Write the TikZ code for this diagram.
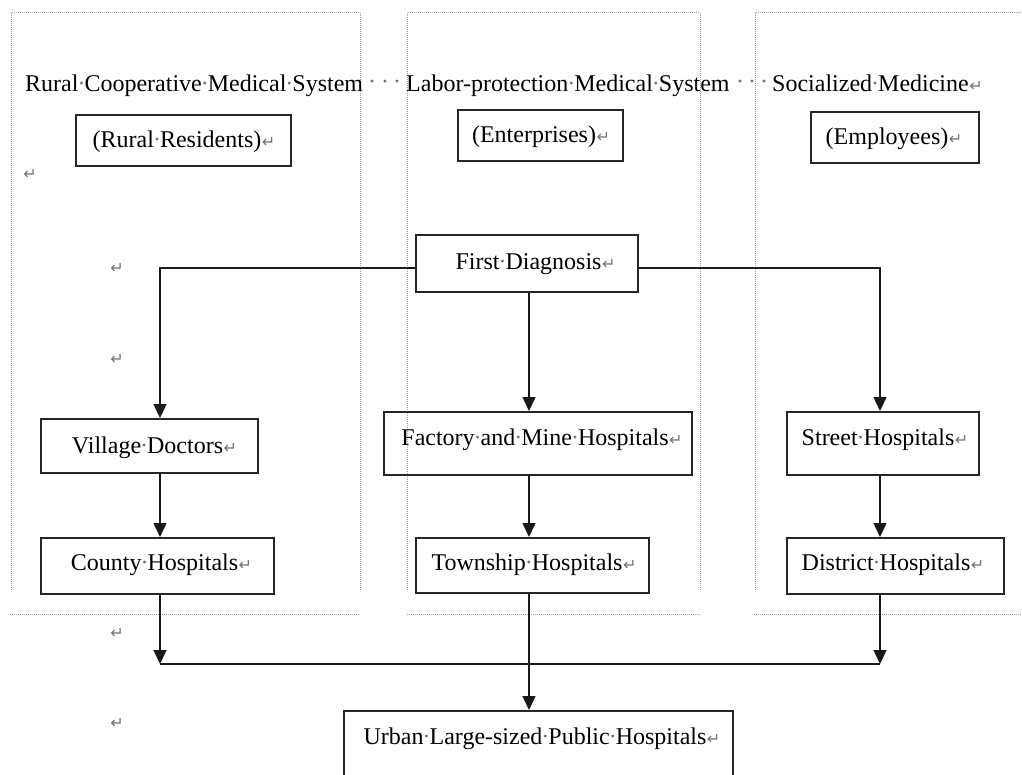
\documentclass[tikz,border=0pt]{standalone}
\usepackage{fontspec}
\setmainfont{Liberation Serif}
\newfontfamily\markfont{DejaVu Sans}
\usetikzlibrary{arrows.meta}
\definecolor{framec}{gray}{0.62}
\definecolor{markc}{gray}{0.45}
% visible space and paragraph marks
\newcommand\ws{\makebox[0.25em][c]{\color{markc}·}}
\newcommand\parmark{\hspace{0.5pt}{\markfont\fontsize{16}{16}\selectfont\color{markc}↵}}
\begin{document}
\begin{tikzpicture}[x=1pt,y=-1pt,
  font=\fontsize{24}{28}\selectfont,
  box/.style={draw=black!85, line width=1.5pt, inner sep=0pt, anchor=north west},
  txt/.style={inner sep=0pt, yshift=-2pt},
  frameline/.style={draw=framec, line width=1pt, dash pattern=on 1pt off 1pt},
  arr/.style={draw=black!90, line width=1.5pt, -{Triangle[width=13pt,length=14pt]}},
  conn/.style={draw=black!90, line width=1.5pt},
  mk/.style={inner sep=0pt, text=markc, font=\markfont\fontsize{16}{16}\selectfont},
  dotmk/.style={inner sep=0pt, text=markc}]
\useasboundingbox (0,0) rectangle (1022,774);
\clip (0,0) rectangle (1022,774);

% dotted text-box frames
\draw[frameline] (11.5,590) -- (11.5,12.5) -- (360,12.5) -- (360,590);
\draw[frameline] (10,614) -- (360,614);
\draw[frameline] (407.5,590) -- (407.5,12.5) -- (700,12.5) -- (700,590);
\draw[frameline] (407,614) -- (701,614);
\draw[frameline] (755,590) -- (755,12.5) -- (1030,12.5);
\draw[frameline] (754,614) -- (1030,614);

% column titles
\node[txt, anchor=base west, yshift=2pt] (t1) at (25,91) {Rural\ws Cooperative\ws Medical\ws System};
\node[txt, anchor=base west, yshift=2pt] (t2) at (406,91) {Labor-protection\ws Medical\ws System};
\node[txt, anchor=base west, yshift=2pt] (t3) at (772,91) {Socialized\ws Medicine\parmark};
\node[dotmk] (d1) at (372,85) {·};
\node[dotmk] (d2) at (385,85) {·};
\node[dotmk] (d3) at (397,85) {·};
\node[dotmk] (d4) at (740,85) {·};
\node[dotmk] (d5) at (752,85) {·};
\node[dotmk] (d6) at (764,85) {·};

% group boxes
\node[box, minimum width=215pt, minimum height=51pt] (rr) at (75,114) {};
\node[txt] (rrt) at (184,139.5) {(Rural\ws Residents)\parmark};
\node[box, minimum width=165pt, minimum height=51pt] (en) at (457,109) {};
\node[txt] (ent) at (541,134.5) {(Enterprises)\parmark};
\node[box, minimum width=168pt, minimum height=51pt] (em) at (810,111) {};
\node[txt] (emt) at (894,136.5) {(Employees)\parmark};

% flow boxes
\node[box, minimum width=222pt, minimum height=57pt] (fd) at (415,234) {};
\node[txt] (fdt) at (535.5,262) {First\ws Diagnosis\parmark};

\node[box, minimum width=217pt, minimum height=54pt] (vd) at (40,418) {};
\node[txt] (vdt) at (154.5,446) {Village\ws Doctors\parmark};
\node[box, minimum width=308pt, minimum height=63pt] (fm) at (383,411) {};
\node[txt] (fmt) at (542,438) {Factory\ws and\ws Mine\ws Hospitals\parmark};
\node[box, minimum width=192pt, minimum height=63pt] (sh) at (786,411) {};
\node[txt] (sht) at (885,438) {Street\ws Hospitals\parmark};

\node[box, minimum width=233pt, minimum height=56pt] (ch) at (40,537) {};
\node[txt] (cht) at (161.5,563) {County\ws Hospitals\parmark};
\node[box, minimum width=233pt, minimum height=55pt] (th) at (415,537) {};
\node[txt] (tht) at (534,563) {Township\ws Hospitals\parmark};
\node[box, minimum width=217pt, minimum height=56pt] (dh) at (786,537) {};
\node[txt] (dht) at (893,563) {District\ws Hospitals\parmark};

\node[box, minimum width=389pt, minimum height=90pt] (uh) at (343,710) {};
\node[txt] (uht) at (542,737) {Urban\ws Large-sized\ws Public\ws Hospitals\parmark};

% stray paragraph marks
\node[mk] (p1) at (30,174) {↵};
\node[mk] (p2) at (117,268) {↵};
\node[mk] (p3) at (117,359) {↵};
\node[mk] (p4) at (117,633) {↵};
\node[mk] (p5) at (117,723) {↵};

% routing points
\coordinate (xl) at (160,268);
\coordinate (xr) at (880,268);
\coordinate (xm) at (529,0);
\coordinate (ml) at (160,664);
\coordinate (mr) at (880,664);

% connectors
\draw[arr] (fd.west |- xl) -- (xl) -- (xl |- vd.north);
\draw[arr] (fd.east |- xr) -- (xr) -- (xr |- sh.north);
\draw[arr] (xm |- fd.south) -- (xm |- fm.north);
\draw[arr] (xl |- vd.south) -- (xl |- ch.north);
\draw[arr] (xm |- fm.south) -- (xm |- th.north);
\draw[arr] (xr |- sh.south) -- (xr |- dh.north);
\draw[arr] (ml |- ch.south) -- (ml);
\draw[arr] (mr |- dh.south) -- (mr);
\draw[conn] (ml) -- (mr);
\draw[arr] (xm |- th.south) -- (xm |- uh.north);
\end{tikzpicture}
\end{document}
